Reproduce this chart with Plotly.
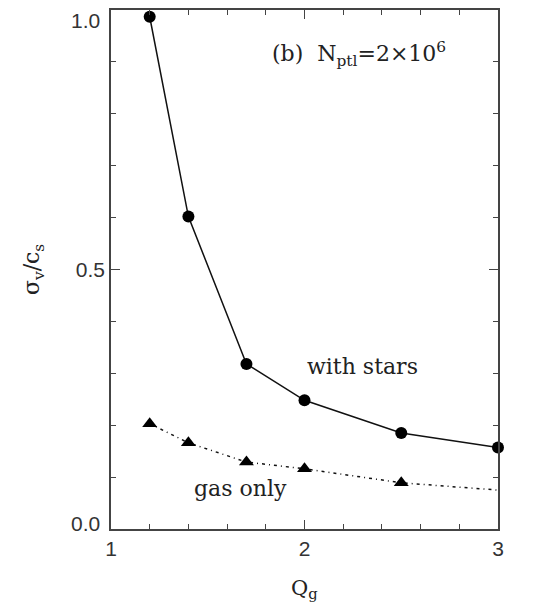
import plotly.graph_objects as go

# data
q_stars = [1.2, 1.4, 1.7, 2.0, 2.5, 3.0]
sig_stars = [0.987, 0.602, 0.318, 0.248, 0.185, 0.157]
q_gas = [1.2, 1.4, 1.7, 2.0, 2.5, 3.0]
sig_gas = [0.203, 0.166, 0.129, 0.116, 0.089, 0.075]
q_gas_pts = [1.2, 1.4, 1.7, 2.0, 2.5]
sig_gas_pts = [0.203, 0.166, 0.129, 0.116, 0.089]
x_ticks = [1, 2, 3]
x_labels = ["1", "2", "3"]
y_ticks = [0.0, 0.5, 1.0]
y_labels = ["0.0", "0.5", "1.0"]

SERIF = "DejaVu Serif"
SANS = "Liberation Sans"
TICKFONT = dict(family=SANS, size=21, color="#333")

fig = go.Figure()
fig.add_trace(go.Scatter(x=q_stars, y=sig_stars, mode="lines+markers",
                         line=dict(color="#111", width=1.5),
                         marker=dict(symbol="circle", size=12, color="black"),
                         cliponaxis=False, showlegend=False))
fig.add_trace(go.Scatter(x=q_gas, y=sig_gas, mode="lines",
                         line=dict(color="#111", width=1.5, dash="3px,4px,1px,4px"),
                         cliponaxis=False, showlegend=False))
fig.add_trace(go.Scatter(x=q_gas_pts, y=sig_gas_pts, mode="markers",
                         marker=dict(symbol="triangle-up", size=13, color="black",
                                     line=dict(width=0, color="black")),
                         cliponaxis=False, showlegend=False))

axis_common = dict(showline=True, linecolor="#444", linewidth=1.5, mirror="allticks",
                   ticks="inside", ticklen=9, tickwidth=1.2, tickcolor="#444",
                   showgrid=False, zeroline=False, automargin=False,
                   tickfont=TICKFONT)

fig.update_xaxes(range=[1, 3], tickvals=x_ticks, ticktext=x_labels,
                 minor=dict(dtick=0.2, ticks="inside", ticklen=5, tickcolor="#444", tickwidth=1.2),
                 **axis_common)
# end labels of the y axis are drawn as annotations (nudged inside, as in the reference)
y_ticktext = [lab if 0 < i < len(y_labels) - 1 else "" for i, lab in enumerate(y_labels)]
fig.update_yaxes(range=[0, 1.0], tickvals=y_ticks, ticktext=y_ticktext,
                 minor=dict(dtick=0.1, ticks="inside", ticklen=5, tickcolor="#444", tickwidth=1.2),
                 **axis_common)
fig.add_annotation(text=y_labels[0], xref="paper", yref="y", x=0, y=y_ticks[0],
                   xanchor="right", yanchor="middle", xshift=-9, yshift=6,
                   showarrow=False, font=TICKFONT)
fig.add_annotation(text=y_labels[-1], xref="paper", yref="y", x=0, y=y_ticks[-1],
                   xanchor="right", yanchor="middle", xshift=-9, yshift=-10,
                   showarrow=False, font=TICKFONT)

fig.add_annotation(text="(b)  N<sub>ptl</sub>=2×10<sup>6</sup>", xref="paper", yref="paper",
                   x=0.41, y=0.915, xanchor="left", yanchor="middle", showarrow=False,
                   font=dict(family=SERIF, size=22, color="#222"))
fig.add_annotation(text="with stars", x=2.0, y=0.314, xanchor="left", yanchor="middle",
                   showarrow=False, font=dict(family=SERIF, size=22, color="#222"))
fig.add_annotation(text="gas only", x=1.42, y=0.078, xanchor="left", yanchor="middle",
                   showarrow=False, font=dict(family=SERIF, size=22, color="#222"))
fig.add_annotation(text="σ<sub>v</sub>/c<sub>s</sub>", xref="paper", yref="paper",
                   x=-0.2, y=0.5, textangle=-90, xanchor="center", yanchor="middle",
                   showarrow=False, font=dict(family=SERIF, size=22, color="#222"))
fig.add_annotation(text="Q<sub>g</sub>", xref="paper", yref="paper",
                   x=0.5, y=-0.115, xanchor="center", yanchor="middle",
                   showarrow=False, font=dict(family=SERIF, size=21, color="#222"))

fig.update_layout(width=533, height=608, margin=dict(l=111, r=35, t=10, b=79),
                  plot_bgcolor="white", paper_bgcolor="white")
fig.write_html("out.html")
